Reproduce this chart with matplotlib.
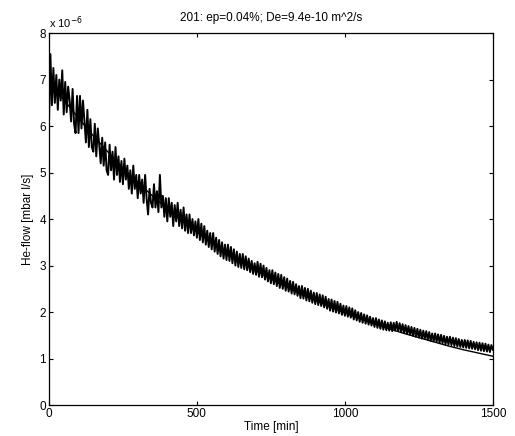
import numpy as np
import matplotlib
matplotlib.use("Agg")
import matplotlib.pyplot as plt

plt.rcParams['font.family'] = ['Liberation Sans', 'DejaVu Sans']

# measured He-flow (x 1e-6 mbar l/s), sampled every 5 min from 0 to 1500
t_step = 5
flow = [
    6.0, 7.55, 6.45, 7.25, 6.5, 7.1, 6.35, 7.0, 6.55, 7.2,
    6.25, 6.95, 6.3, 6.85, 6.55, 6.1, 6.8, 6.05, 5.85, 6.65,
    5.85, 6.65, 5.95, 6.55, 6.1, 5.65, 6.35, 5.55, 6.15, 5.55,
    5.45, 6.05, 5.35, 5.95, 5.6, 5.2, 5.75, 5.15, 5.65, 5.05,
    4.95, 5.6, 5.05, 5.45, 4.85, 5.55, 4.95, 5.35, 4.8, 5.25,
    4.75, 5.3, 4.85, 5.15, 4.65, 5.05, 4.55, 5.15, 4.65, 4.95,
    4.45, 4.95, 4.55, 4.85, 4.35, 4.95, 4.45, 4.1, 4.65, 4.35,
    4.25, 4.75, 4.25, 4.6, 4.15, 4.95, 4.25, 4.5, 4.05, 4.45,
    3.95, 4.45, 4.05, 4.35, 3.85, 4.3, 3.95, 4.35, 3.85, 4.2,
    3.8, 4.25, 3.75, 4.1, 3.7, 4.1, 3.7, 4.0, 3.65, 3.95,
    3.6, 4.0, 3.55, 3.9, 3.5, 3.85, 3.45, 3.75, 3.4, 3.7,
    3.35, 3.7, 3.3, 3.6, 3.25, 3.55, 3.2, 3.5, 3.15, 3.45,
    3.12, 3.45, 3.1, 3.4, 3.05, 3.35, 3.0, 3.3, 2.97, 3.25,
    2.95, 3.25, 2.92, 3.2, 2.9, 3.15, 2.86, 3.1, 2.82, 3.05,
    2.8, 3.08, 2.76, 3.04, 2.75, 3.0, 2.7, 2.95, 2.66, 2.9,
    2.62, 2.9, 2.6, 2.85, 2.56, 2.82, 2.52, 2.8, 2.5, 2.75,
    2.46, 2.72, 2.44, 2.67, 2.4, 2.65, 2.38, 2.6, 2.35, 2.56,
    2.3, 2.56, 2.29, 2.52, 2.25, 2.5, 2.23, 2.46, 2.2, 2.42,
    2.17, 2.41, 2.15, 2.38, 2.13, 2.36, 2.1, 2.33, 2.07, 2.28,
    2.03, 2.27, 2.01, 2.24, 1.99, 2.22, 1.97, 2.18, 1.94, 2.14,
    1.92, 2.13, 1.9, 2.1, 1.88, 2.08, 1.84, 2.04, 1.82, 2.0,
    1.79, 1.98, 1.77, 1.95, 1.75, 1.93, 1.73, 1.9, 1.71, 1.87,
    1.68, 1.87, 1.66, 1.84, 1.64, 1.82, 1.62, 1.8, 1.61, 1.77,
    1.6, 1.78, 1.59, 1.77, 1.6, 1.79, 1.59, 1.76, 1.57, 1.74,
    1.55, 1.72, 1.53, 1.7, 1.51, 1.68, 1.49, 1.66, 1.47, 1.64,
    1.45, 1.62, 1.43, 1.6, 1.42, 1.59, 1.4, 1.57, 1.38, 1.54,
    1.37, 1.54, 1.36, 1.52, 1.34, 1.51, 1.33, 1.49, 1.31, 1.47,
    1.3, 1.47, 1.29, 1.45, 1.27, 1.44, 1.26, 1.42, 1.25, 1.4,
    1.24, 1.4, 1.23, 1.39, 1.22, 1.38, 1.21, 1.36, 1.2, 1.35,
    1.18, 1.34, 1.17, 1.33, 1.16, 1.32, 1.15, 1.3, 1.14, 1.29,
    1.19,
]

# fitted model curve, every 50 min
fit_time = [0, 50, 100, 150, 200, 250, 300, 350, 400, 450, 500, 550, 600, 650,
            700, 750, 800, 850, 900, 950, 1000, 1050, 1100, 1150, 1200, 1250,
            1300, 1350, 1400, 1450, 1500]
fit_flow = [7.00, 6.57, 6.17, 5.79, 5.44, 5.10, 4.79, 4.50, 4.22, 3.96, 3.72,
            3.49, 3.28, 3.08, 2.89, 2.71, 2.55, 2.39, 2.25, 2.11, 1.98, 1.86,
            1.75, 1.64, 1.54, 1.45, 1.36, 1.27, 1.19, 1.12, 1.05]

x_ticks = [0, 500, 1000, 1500]
y_ticks = [0, 1, 2, 3, 4, 5, 6, 7, 8]

time = np.arange(len(flow)) * t_step

fig = plt.figure(figsize=(5.15, 4.36), dpi=100)
ax = fig.add_axes([0.095, 0.071, 0.862, 0.853])

ax.plot(time, flow, color='black', lw=1.4)
ax.plot(fit_time, fit_flow, color='black', lw=1.0)

ax.set_xlim(0, 1500)
ax.set_ylim(0, 8)
ax.set_xticks(x_ticks)
ax.set_yticks(y_ticks)
ax.tick_params(direction='in', top=True, right=True, labelsize=8.5, length=3,
               pad=2)
for s in ax.spines.values():
    s.set_linewidth(0.9)

ax.set_xlabel('Time [min]', fontsize=8.5, labelpad=1)
ax.set_ylabel('He-flow [mbar l/s]', fontsize=8.5, labelpad=4)
ax.set_title('201: ep=0.04%; De=9.4e-10 m^2/s', fontsize=8.5, pad=9)
ax.text(0.0, 1.005, r'x 10$^{-6}$', transform=ax.transAxes, fontsize=8,
        ha='left', va='bottom')

fig.savefig('out.png', dpi=100)
